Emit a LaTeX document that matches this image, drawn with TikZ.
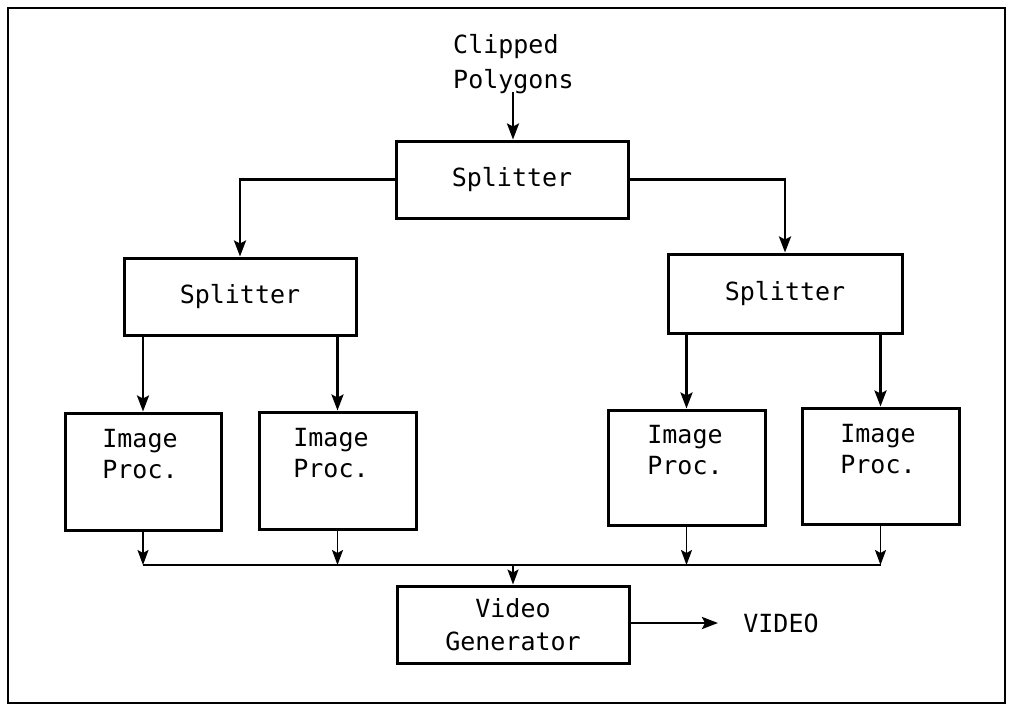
\documentclass[tikz,border=0pt]{standalone}
\usepackage{fontspec}
\setmonofont{DejaVu Sans Mono}
\usetikzlibrary{arrows.meta}
\begin{document}
\begin{tikzpicture}[x=1pt,y=-1pt,
  font=\ttfamily\fontsize{25}{31}\selectfont,
  box/.style={draw,line width=3pt,inner sep=0pt,align=center},
  lbl/.style={inner sep=0pt,align=center},
  arr/.style={line width=2.6pt,-{Stealth[length=16pt,width=12pt,inset=3pt]}},
  thinarr/.style={line width=1.8pt,-{Stealth[length=15pt,width=11pt,inset=3pt]}},
  bus/.style={line width=2.6pt}]
\useasboundingbox (0,0) rectangle (1012,710);
\draw[line width=1.5pt] (8,8) rectangle (1005,703);
% nodes
\node[lbl,align=left,anchor=west,font=\ttfamily\fontsize{25}{35}\selectfont] (in) at (453,64) {Clipped\\Polygons};
\node[box,minimum width=232,minimum height=77] (s0) at (512,179.5) {Splitter};
\node[box,minimum width=232,minimum height=77] (s1) at (240,296.5) {Splitter};
\node[box,minimum width=234,minimum height=79] (s2) at (785,293.5) {Splitter};
\node[box,minimum width=156,minimum height=117] (ip1) at (143,471.5) {};
\node[box,minimum width=157,minimum height=117] (ip2) at (337.5,470.5) {};
\node[box,minimum width=157,minimum height=115] (ip3) at (686.5,467.5) {};
\node[box,minimum width=157,minimum height=116] (ip4) at (880.5,466) {};
\node[lbl] (ip1t) at (140,454) {Image\\Proc.};
\node[lbl] (ip2t) at (331,453) {Image\\Proc.};
\node[lbl] (ip3t) at (685,450) {Image\\Proc.};
\node[lbl] (ip4t) at (878,449) {Image\\Proc.};
\node[box,minimum width=232,minimum height=77,font=\ttfamily\fontsize{25}{33}\selectfont] (vg) at (513,624.5) {Video\\Generator};
\node[lbl] (out) at (781,623) {VIDEO};
% connectors
\coordinate (intop) at (513,92);
\draw[arr] (intop) -- (s0.north -| intop);
\draw[arr] (s0.west) -| (s1.north);
\draw[arr] (s0.east) -| (s2.north);
\draw[arr] (s1.south -| ip1.north) -- (ip1.north);
\draw[arr] (s1.south -| ip2.north) -- (ip2.north);
\draw[arr] (s2.south -| ip3.north) -- (ip3.north);
\draw[arr] (s2.south -| ip4.north) -- (ip4.north);
\coordinate (b1) at (143,565);
\coordinate (b2) at (337.5,565);
\coordinate (b3) at (686.5,565);
\coordinate (b4) at (880.5,565);
\coordinate (bv) at (513,565);
\draw[thinarr] (ip1.south) -- (b1);
\draw[thinarr] (ip2.south) -- (b2);
\draw[thinarr] (ip3.south) -- (b3);
\draw[thinarr] (ip4.south) -- (b4);
\draw[bus] (b1) -- (b4);
\draw[thinarr] (bv) -- (vg.north);
\coordinate (vend) at (718,623);
\draw[arr] (vg.east |- vend) -- (vend);
\end{tikzpicture}
\end{document}
